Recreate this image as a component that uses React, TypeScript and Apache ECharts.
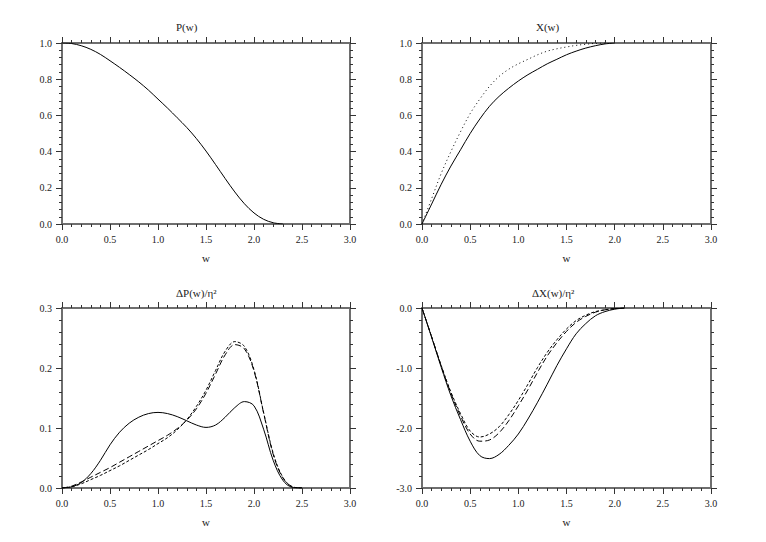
import React, { useEffect, useRef } from "react";
import * as echarts from "echarts";

// sample abscissae (w)
const W = [
  0.0, 0.1, 0.2, 0.3, 0.4, 0.5, 0.6, 0.7, 0.8, 0.9, 1.0, 1.1, 1.2, 1.3, 1.4,
  1.5, 1.6, 1.7, 1.8, 1.9, 2.0, 2.1, 2.2, 2.3, 2.4, 2.5,
];

const xTickLabels = ["0.0", "0.5", "1.0", "1.5", "2.0", "2.5", "3.0"];

// P(w)
const P_solid = [
  1.0, 0.997, 0.985, 0.965, 0.937, 0.902, 0.865, 0.826, 0.785, 0.74, 0.69,
  0.64, 0.587, 0.533, 0.472, 0.403, 0.328, 0.251, 0.177, 0.112, 0.061, 0.026,
  0.007, 0.0,
];

// X(w)
const X_solid = [
  0.0, 0.11, 0.22, 0.32, 0.41, 0.5, 0.58, 0.65, 0.705, 0.75, 0.79, 0.825,
  0.855, 0.885, 0.91, 0.935, 0.955, 0.972, 0.985, 0.995, 1.0,
];
const X_dotted = [
  0.0, 0.14, 0.28, 0.4, 0.51, 0.61, 0.69, 0.76, 0.815, 0.855, 0.885, 0.91,
  0.935, 0.955, 0.968, 0.978, 0.987, 0.993, 0.998, 1.0,
];

// ΔP(w)/η²
const dP_solid = [
  0.0, 0.002, 0.009, 0.024, 0.046, 0.072, 0.093, 0.108, 0.118, 0.124, 0.126,
  0.124, 0.119, 0.112, 0.105, 0.101, 0.105, 0.118, 0.134, 0.144, 0.137, 0.098,
  0.046, 0.013, 0.001, 0.0,
];
const dP_longDash = [
  0.0, 0.003, 0.01, 0.018, 0.026, 0.034, 0.043, 0.052, 0.061, 0.07, 0.079,
  0.088, 0.099, 0.113, 0.132, 0.158, 0.19, 0.222, 0.239, 0.232, 0.195, 0.125,
  0.056, 0.017, 0.002, 0.0,
];
const dP_shortDash = [
  0.0, 0.002, 0.007, 0.014, 0.021, 0.029, 0.037, 0.046, 0.055, 0.064, 0.074,
  0.084, 0.097, 0.114, 0.136, 0.163, 0.196, 0.228, 0.244, 0.236, 0.197, 0.126,
  0.058, 0.018, 0.002, 0.0,
];

// ΔX(w)/η²
const dX_solid = [
  0.0, -0.49, -0.99, -1.46, -1.86, -2.22, -2.46, -2.51, -2.44, -2.29, -2.1,
  -1.85, -1.57, -1.27, -0.96, -0.68, -0.43, -0.26, -0.13, -0.06, -0.02, 0.0,
];
const dX_longDash = [
  0.0, -0.48, -0.97, -1.42, -1.8, -2.1, -2.22, -2.2, -2.08, -1.88, -1.63,
  -1.36, -1.07, -0.8, -0.58, -0.39, -0.24, -0.14, -0.07, -0.03, -0.01, 0.0,
];
const dX_shortDash = [
  0.0, -0.48, -0.96, -1.4, -1.76, -2.05, -2.15, -2.1, -1.98, -1.78, -1.54,
  -1.27, -0.99, -0.74, -0.53, -0.35, -0.21, -0.12, -0.06, -0.03, -0.01, 0.0,
];

const pairs = (ys: number[]) => ys.map((y, i) => [W[i], y]);

const FONT = "Liberation Serif";

type Panel = {
  title: string;
  tx: number;
  ty: number;
  grid: { left: number; top: number; width: number; height: number };
  yMin: number;
  yMax: number;
  yInt: number;
  series: { data: number[]; dash: any }[];
};

const panels: Panel[] = [
  {
    title: "P(w)",
    tx: 176,
    ty: 28,
    grid: { left: 62, top: 43, width: 288, height: 181 },
    yMin: 0,
    yMax: 1,
    yInt: 0.2,
    series: [{ data: P_solid, dash: "solid" }],
  },
  {
    title: "X(w)",
    tx: 536,
    ty: 28,
    grid: { left: 422, top: 43, width: 289, height: 181 },
    yMin: 0,
    yMax: 1,
    yInt: 0.2,
    series: [
      { data: X_solid, dash: "solid" },
      { data: X_dotted, dash: [1, 3] },
    ],
  },
  {
    title: "ΔP(w)/η²",
    tx: 176,
    ty: 294,
    grid: { left: 62, top: 308, width: 288, height: 180 },
    yMin: 0,
    yMax: 0.3,
    yInt: 0.1,
    series: [
      { data: dP_solid, dash: "solid" },
      { data: dP_longDash, dash: [6, 3] },
      { data: dP_shortDash, dash: [3, 2] },
    ],
  },
  {
    title: "ΔX(w)/η²",
    tx: 532,
    ty: 294,
    grid: { left: 422, top: 308, width: 289, height: 180 },
    yMin: -3,
    yMax: 0,
    yInt: 1,
    series: [
      { data: dX_solid, dash: "solid" },
      { data: dX_longDash, dash: [6, 3] },
      { data: dX_shortDash, dash: [3, 2] },
    ],
  },
];

const axisLine = { show: true, onZero: false, lineStyle: { color: "#6e6e6e", width: 2 } };
const axisTick = { show: true, inside: false, length: 6, lineStyle: { color: "#333", width: 1 } };
const minorTick = { show: true, splitNumber: 5, length: 3, lineStyle: { color: "#333", width: 1 } };
const labelStyle = { fontFamily: FONT, fontSize: 10, color: "#222", margin: 10, fontWeight: "normal" };

export default function App() {
  const ref = useRef<HTMLDivElement>(null);
  useEffect(() => {
    if (!ref.current) return;
    const chart = echarts.init(ref.current, undefined, { renderer: "svg" });
    const grid: any[] = [];
    const xAxis: any[] = [];
    const yAxis: any[] = [];
    const series: any[] = [];
    const graphic: any[] = [];
    panels.forEach((p, i) => {
      grid.push({ ...p.grid, containLabel: false });
      xAxis.push({
        type: "value",
        gridIndex: i,
        position: "bottom",
        min: 0,
        max: 3,
        interval: 0.5,
        axisLine,
        axisTick,
        minorTick,
        splitLine: { show: false },
        axisLabel: {
          ...labelStyle,
          formatter: (v: number) => xTickLabels[Math.round(v * 2)] ?? v.toFixed(1),
        },
        name: "w",
        nameLocation: "middle",
        nameGap: 28,
        nameTextStyle: { fontFamily: FONT, fontSize: 11, color: "#222", fontWeight: "normal" },
      });
      xAxis.push({
        type: "value",
        gridIndex: i,
        position: "top",
        min: 0,
        max: 3,
        interval: 0.5,
        axisLine,
        axisTick,
        minorTick,
        splitLine: { show: false },
        axisLabel: { show: false },
      });
      yAxis.push({
        type: "value",
        gridIndex: i,
        position: "left",
        min: p.yMin,
        max: p.yMax,
        interval: p.yInt,
        axisLine,
        axisTick,
        minorTick,
        splitLine: { show: false },
        axisLabel: { ...labelStyle, formatter: (v: number) => v.toFixed(1) },
      });
      yAxis.push({
        type: "value",
        gridIndex: i,
        position: "right",
        min: p.yMin,
        max: p.yMax,
        interval: p.yInt,
        axisLine,
        axisTick,
        minorTick,
        splitLine: { show: false },
        axisLabel: { show: false },
      });
      p.series.forEach((s) => {
        series.push({
          type: "line",
          xAxisIndex: i * 2,
          yAxisIndex: i * 2,
          data: pairs(s.data),
          showSymbol: false,
          smooth: 0.35,
          lineStyle: { color: "#000", width: 1, type: s.dash },
          z: 3,
        });
      });
      graphic.push({
        type: "text",
        left: p.tx,
        top: p.ty - 7,
        style: {
          text: p.title,
          fontFamily: FONT,
          fontSize: 11,
          fontWeight: "normal",
          fill: "#222",
        },
      });
    });
    chart.setOption({
      animation: false,
      backgroundColor: "#fff",
      grid,
      xAxis,
      yAxis,
      series,
      graphic,
    });
    return () => chart.dispose();
  }, []);
  return (
    <div
      ref={ref}
      style={{ position: "fixed", left: 0, top: 0, width: 766, height: 542 }}
    />
  );
}
